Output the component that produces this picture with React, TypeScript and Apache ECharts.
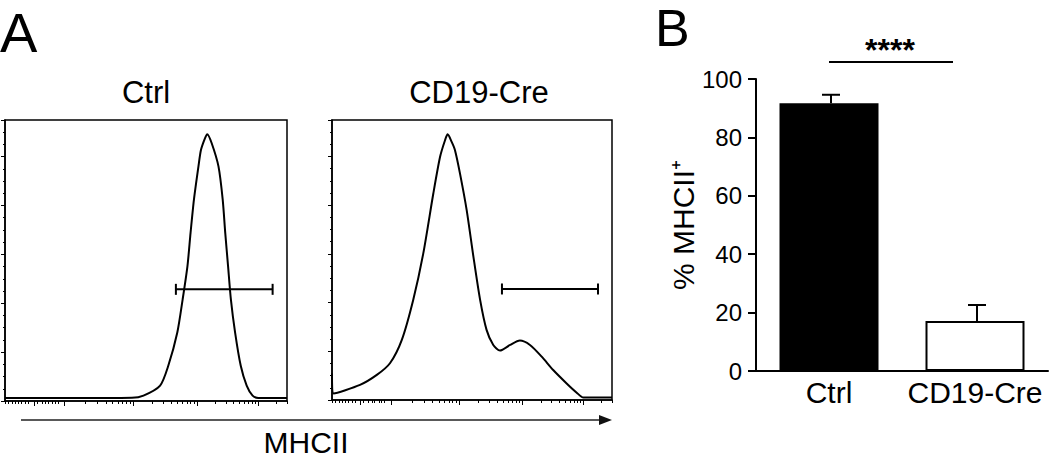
import React, { useEffect, useRef } from "react";
import * as echarts from "echarts";

const FONT = "'Liberation Sans', Arial, Helvetica, sans-serif";

// ---------- Panel A: flow histograms (MHCII, normalised count) ----------
const ctrlHistX = [0, 30, 45, 49.1, 55.0, 57.9, 61.1, 63.0, 64.7, 65.8, 67.0, 68.6, 69.5, 70.9, 71.7, 73.3, 75.7, 77.2, 78.1, 79.1, 80.1, 81.6, 83.6, 85.7, 87.8, 89.8, 100];
const ctrlHistY = [1.2, 1.2, 1.3, 2.2, 6.3, 14.4, 28.0, 41.6, 55.2, 68.8, 82.4, 96.0, 102.8, 107.5, 109.2, 105.5, 96.0, 82.4, 68.8, 55.2, 41.6, 28.0, 14.4, 6.3, 2.2, 1.2, 1.2];

const cd19HistX = [0, 0.6, 10.0, 16.0, 20.7, 24.9, 29.0, 32.6, 36.2, 38.6, 40.4, 41.3, 42.7, 43.9, 45.7, 48.1, 50.5, 52.9, 55.2, 57.6, 60.0, 63.6, 67.1, 70.7, 74.9, 79.0, 83.8, 87.4, 89.8, 100];
const cd19HistY = [10.9, 2.7, 6.2, 10.3, 15.1, 24.6, 41.1, 60.2, 84.9, 99.9, 106.8, 109.1, 106.1, 102.7, 93.1, 78.0, 58.9, 41.1, 28.8, 22.6, 20.3, 22.6, 24.4, 22.6, 17.8, 12.3, 6.8, 3.0, 1.0, 1.0];

const ctrlGateX = [60.6, 94.9];
const ctrlGateY = [45.7, 45.7];
const cd19GateX = [60.7, 95.0];
const cd19GateY = [45.6, 45.6];

// log-like (logicle) tick positions on the MHCII axis
const histXMajorTicks = [10.2, 21.1, 45.5, 68.0, 89.8];
const histXMinorTicks = [0, 1.1, 2.5, 3.5, 4.6, 5.7, 7.1, 8.2, 11.3, 13.1, 14.2, 15.2, 16.7, 17.7, 18.8, 28.6, 32.8, 35.9, 38.2, 40.1, 41.7, 43.1, 44.3, 52.3, 56.2, 59.0, 61.2, 63.0, 64.5, 65.8, 67.0, 74.6, 78.4, 81.1, 83.2, 85.0, 86.4, 87.7, 88.8, 96.3, 100];

const histTitles = ["Ctrl", "CD19-Cre"];
const histAxisName = "MHCII";

// ---------- Panel B: % MHCII+ bar chart ----------
const barCategories = ["Ctrl", "CD19-Cre"];
const barMeans = [91.7, 17.1];
const barErrTop = [94.6, 22.6];
const barYName = "% MHCII\u207A";
const sigLabel = "****";

function zip(xs: number[], ys: number[]) {
  return xs.map((x, i) => [x, ys[i]]);
}

export default function App() {
  const ref = useRef<HTMLDivElement>(null);

  useEffect(() => {
    if (!ref.current) return;
    const chart = echarts.init(ref.current, undefined, { renderer: "svg" });

    const black = "#000";
    const histGridBase = {
      show: true,
      borderColor: black,
      borderWidth: 1.5,
      backgroundColor: "transparent",
    };

    const histXAxes = (gridIndex: number) => [
      {
        gridIndex,
        type: "value",
        min: 0,
        max: 100,
        position: "bottom",
        axisLine: { show: true, lineStyle: { color: black, width: 1.5 } },
        axisTick: { show: true, customValues: histXMajorTicks, length: 5, lineStyle: { color: black, width: 1 } },
        axisLabel: { show: false },
        splitLine: { show: false },
      },
      {
        gridIndex,
        type: "value",
        min: 0,
        max: 100,
        position: "bottom",
        axisLine: { show: false },
        axisTick: { show: true, customValues: histXMinorTicks, length: 3, lineStyle: { color: black, width: 1 } },
        axisLabel: { show: false },
        splitLine: { show: false },
      },
    ];

    const histYAxis = (gridIndex: number) => ({
      gridIndex,
      type: "value",
      min: 0,
      max: 115,
      interval: 20,
      axisLine: { show: true, lineStyle: { color: black, width: 1.5 } },
      axisTick: { show: true, length: 4, lineStyle: { color: black, width: 1 } },
      minorTick: { show: true, splitNumber: 4, length: 2, lineStyle: { color: black, width: 1 } },
      axisLabel: { show: false },
      splitLine: { show: false },
      minorSplitLine: { show: false },
    });

    const histLine = {
      type: "line",
      showSymbol: false,
      symbol: "none",
      smooth: 0.25,
      lineStyle: { color: black, width: 2 },
      silent: true,
    };

    const gateLine = {
      type: "line",
      symbol: "rect",
      symbolSize: [2, 11],
      showSymbol: true,
      itemStyle: { color: black },
      lineStyle: { color: black, width: 2 },
      silent: true,
    };

    chart.setOption({
      animation: false,
      backgroundColor: "#fff",
      textStyle: { fontFamily: FONT },
      grid: [
        { ...histGridBase, left: 5, top: 120, width: 282, height: 281 },
        { ...histGridBase, left: 332, top: 120, width: 280, height: 280 },
        { left: 756, top: 79, width: 292, height: 292 },
      ],
      xAxis: [
        ...histXAxes(0),
        ...histXAxes(1),
        {
          gridIndex: 2,
          type: "category",
          data: barCategories,
          axisLine: { show: true, lineStyle: { color: black, width: 2 } },
          axisTick: { show: false },
          axisLabel: { fontSize: 30, color: black, margin: 6, fontFamily: FONT, interval: 0, hideOverlap: false },
          splitLine: { show: false },
        },
      ],
      yAxis: [
        histYAxis(0),
        histYAxis(1),
        {
          gridIndex: 2,
          type: "value",
          min: 0,
          max: 100,
          interval: 20,
          axisLine: { show: true, lineStyle: { color: black, width: 2 } },
          axisTick: { show: true, length: 8, lineStyle: { color: black, width: 2 } },
          axisLabel: { fontSize: 24, color: black, margin: 14, fontFamily: FONT },
          splitLine: { show: false },
          name: barYName,
          nameLocation: "middle",
          nameGap: 58,
          nameRotate: 90,
          nameTextStyle: { fontSize: 30, color: black, fontFamily: FONT },
        },
      ],
      series: [
        { ...histLine, xAxisIndex: 0, yAxisIndex: 0, data: zip(ctrlHistX, ctrlHistY) },
        { ...gateLine, xAxisIndex: 0, yAxisIndex: 0, data: zip(ctrlGateX, ctrlGateY) },
        { ...histLine, xAxisIndex: 2, yAxisIndex: 1, data: zip(cd19HistX, cd19HistY) },
        { ...gateLine, xAxisIndex: 2, yAxisIndex: 1, data: zip(cd19GateX, cd19GateY) },
        {
          type: "bar",
          xAxisIndex: 4,
          yAxisIndex: 2,
          barWidth: 99,
          silent: true,
          data: barMeans.map((v, i) => ({
            value: v,
            itemStyle:
              i === 0
                ? { color: black }
                : { color: "#fff", borderColor: black, borderWidth: 2 },
          })),
        },
        {
          type: "custom",
          xAxisIndex: 4,
          yAxisIndex: 2,
          silent: true,
          z: 5,
          data: barMeans.map((v, i) => [i, v, barErrTop[i]]),
          renderItem: (_params: any, api: any) => {
            const base = api.coord([api.value(0), api.value(1)]);
            const top = api.coord([api.value(0), api.value(2)]);
            const half = 9;
            const style = { stroke: black, lineWidth: 2 };
            return {
              type: "group",
              children: [
                { type: "line", shape: { x1: base[0] + 2, y1: base[1], x2: top[0] + 2, y2: top[1] }, style },
                { type: "line", shape: { x1: top[0] + 2 - half, y1: top[1], x2: top[0] + 2 + half, y2: top[1] }, style },
              ],
            };
          },
        },
      ],
      graphic: [
        { type: "text", left: 0, top: 4, style: { text: "A", fontSize: 56, fontFamily: FONT, fill: black } },
        { type: "text", left: 655, top: 2, style: { text: "B", fontSize: 52, fontFamily: FONT, fill: black } },
        { type: "text", x: 146, y: 92, style: { text: histTitles[0], fontSize: 31, fontFamily: FONT, fill: black, align: "center", verticalAlign: "middle" } },
        { type: "text", x: 479, y: 92, style: { text: histTitles[1], fontSize: 31, fontFamily: FONT, fill: black, align: "center", verticalAlign: "middle" } },
        { type: "text", x: 306, y: 442, style: { text: histAxisName, fontSize: 30, fontFamily: FONT, fill: black, align: "center", verticalAlign: "middle" } },
        { type: "line", shape: { x1: 21, y1: 420, x2: 604, y2: 420 }, style: { stroke: "#222", lineWidth: 1.5 } },
        { type: "polygon", shape: { points: [[599, 415], [612, 420], [599, 425]] }, style: { fill: "#111" } },
        { type: "line", shape: { x1: 829, y1: 62, x2: 953, y2: 62 }, style: { stroke: black, lineWidth: 2 } },
        { type: "text", x: 890, y: 50, style: { text: sigLabel, fontSize: 32, fontWeight: "bold", fontFamily: FONT, fill: black, align: "center", verticalAlign: "middle" } },
      ],
    });

    return () => chart.dispose();
  }, []);

  return (
    <div
      ref={ref}
      style={{ position: "fixed", left: 0, top: 0, width: 1050, height: 459, background: "#fff" }}
    />
  );
}
